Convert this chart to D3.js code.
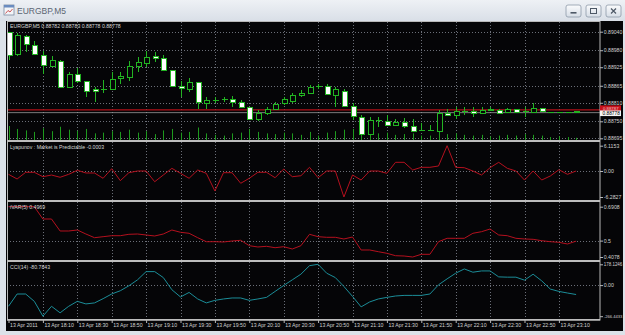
<!DOCTYPE html>
<html><head><meta charset="utf-8">
<script src="https://cdn.jsdelivr.net/npm/d3@7"></script>
<style>html,body{margin:0;padding:0;background:#dfe4ea;overflow:hidden}svg{display:block}</style>
</head><body>
<svg id="c" width="625" height="335"></svg>
<script>
// ---------------- DATA ----------------
const symbol = "EURGBP,M5";
const headerOHLC = "0.88782 0.88783 0.88778 0.88778";
const open  = [0.89040,0.88967,0.89026,0.88997,0.88965,0.88930,0.88946,0.88862,0.88902,0.88880,0.88854,0.88855,0.88854,0.88889,0.88894,0.88929,0.88938,0.88961,0.88956,0.88916,0.88864,0.88854,0.88876,0.88810,0.88819,0.88821,0.88823,0.88813,0.88796,0.88757,0.88776,0.88789,0.88808,0.88816,0.88834,0.88841,0.88864,0.88864,0.88834,0.88849,0.88800,0.88763,0.88709,0.88754,0.88751,0.88737,0.88749,0.88735,0.88721,0.88722,0.88720,0.88778,0.88770,0.88783,0.88784,0.88778,0.88787,0.88787,0.88778,0.88789,0.88782,0.88782,0.88792,0.88779,0.88779,0.88779,0.88782];
const high  = [0.89040,0.89037,0.89029,0.89010,0.88978,0.88961,0.88948,0.88911,0.88922,0.88882,0.88862,0.88884,0.88911,0.88909,0.88946,0.88959,0.88978,0.88975,0.88965,0.88916,0.88880,0.88889,0.88876,0.88830,0.88830,0.88830,0.88832,0.88819,0.88796,0.88787,0.88795,0.88813,0.88828,0.88843,0.88851,0.88868,0.88871,0.88871,0.88862,0.88855,0.88808,0.88770,0.88764,0.88765,0.88770,0.88757,0.88760,0.88757,0.88744,0.88738,0.88787,0.88789,0.88797,0.88795,0.88795,0.88797,0.88797,0.88791,0.88792,0.88791,0.88795,0.88808,0.88794,0.88781,0.88781,0.88781,0.88783];
const low   = [0.88948,0.88961,0.88975,0.88965,0.88902,0.88927,0.88860,0.88860,0.88873,0.88828,0.88813,0.88841,0.88851,0.88870,0.88880,0.88911,0.88925,0.88943,0.88914,0.88862,0.88828,0.88846,0.88789,0.88789,0.88808,0.88813,0.88795,0.88795,0.88754,0.88752,0.88770,0.88787,0.88803,0.88810,0.88828,0.88838,0.88854,0.88837,0.88795,0.88795,0.88754,0.88706,0.88706,0.88733,0.88735,0.88735,0.88727,0.88719,0.88719,0.88719,0.88719,0.88767,0.88757,0.88770,0.88765,0.88777,0.88784,0.88777,0.88777,0.88779,0.88765,0.88780,0.88780,0.88777,0.88777,0.88776,0.88778];
const close = [0.88967,0.89029,0.88999,0.88967,0.88932,0.88948,0.88862,0.88903,0.88880,0.88848,0.88848,0.88855,0.88886,0.88897,0.88929,0.88942,0.88958,0.88956,0.88916,0.88864,0.88857,0.88876,0.88810,0.88819,0.88819,0.88821,0.88813,0.88797,0.88758,0.88778,0.88789,0.88805,0.88821,0.88835,0.88842,0.88862,0.88864,0.88838,0.88854,0.88802,0.88767,0.88709,0.88754,0.88754,0.88737,0.88748,0.88735,0.88720,0.88721,0.88722,0.88778,0.88770,0.88784,0.88783,0.88777,0.88787,0.88791,0.88778,0.88789,0.88780,0.88782,0.88794,0.88781,0.88779,0.88779,0.88779,0.88778];
const volume = [38,30,26,22,32,24,36,28,25,30,18,20,24,22,28,20,24,16,26,30,20,22,34,18,14,12,18,20,30,22,18,16,20,18,14,22,12,20,24,28,30,36,32,18,20,14,16,18,12,12,28,16,18,14,12,14,10,12,14,12,16,14,12,8,10,8,6];
const lyapunov = [-0.80,-1.93,-0.31,-0.31,-1.38,-0.97,-1.52,-0.80,0.17,-0.48,-0.48,-1.76,0.56,-2.34,-0.41,0.00,0.00,-2.59,-0.97,0.65,-0.56,-1.76,0.24,-0.56,-4.83,-0.41,-0.41,-2.97,-1.76,-0.31,-0.31,-1.62,0.48,-1.38,-1.14,0.89,-1.62,0.00,0.00,-6.2827,-0.97,-2.18,0.00,0.00,-0.56,2.10,2.10,0.24,0.89,0.89,1.21,6.1153,0.89,0.80,0.00,-0.97,0.80,2.10,0.65,0.00,-2.18,0.00,-2.18,-1.21,0.31,-0.80,-0.0003];
const ivar = [0.6908,0.6908,0.6908,0.6908,0.6216,0.6216,0.5541,0.5541,0.5597,0.5372,0.5164,0.5220,0.5277,0.5277,0.5355,0.5372,0.5316,0.5260,0.5372,0.5597,0.5468,0.5412,0.5164,0.4939,0.4939,0.4922,0.4978,0.5018,0.4714,0.4641,0.4680,0.4601,0.4658,0.4528,0.4714,0.5355,0.5220,0.5186,0.5186,0.5091,0.5203,0.4472,0.4472,0.4376,0.4286,0.4151,0.4134,0.4078,0.4230,0.4230,0.4939,0.5130,0.5130,0.5130,0.5412,0.5502,0.5653,0.5316,0.5277,0.5130,0.5091,0.5074,0.4995,0.4939,0.4905,0.4810,0.4969];
const cci = [-181.6,-76.4,-76.4,-139.1,-266.4433,-181.6,-237.6,-181.6,-139.1,-161.2,-152.7,-116.2,-76.4,-48.4,-5.9,45.0,115.4,115.4,64.5,-39.9,-101.8,-62.8,-118.8,-152.7,-130.7,-118.8,-110.3,-110.3,-130.7,-118.8,-105.2,-54.3,-3.4,45.0,93.3,166.3,178.1246,101.8,64.5,-11.9,-96.7,-186.6,-144.2,-118.8,-105.2,-93.3,-88.2,-88.2,-88.2,-76.4,2.5,53.4,101.8,138.3,110.3,121.3,121.3,70.4,67.9,67.9,42.4,93.3,36.5,-33.9,-54.3,-67.9,-80.7843];
const timeLabels = ["13 Apr 2011","13 Apr 18:10","13 Apr 18:30","13 Apr 18:50","13 Apr 19:10","13 Apr 19:30","13 Apr 19:50","13 Apr 20:10","13 Apr 20:30","13 Apr 20:50","13 Apr 21:10","13 Apr 21:30","13 Apr 21:50","13 Apr 22:10","13 Apr 22:30","13 Apr 22:50","13 Apr 23:10"];
const timeLabelBars = [0,4,8,12,16,20,24,28,32,36,40,44,48,52,56,60,64];
const priceTicks = [0.89040,0.88980,0.88925,0.88865,0.88810,0.88750,0.88695];
const bidPrice = 0.88778, askPrice = 0.88787;
const lyapTicks = [6.1153,0,-6.2827], lyapTickText = ["6.1153","0.00","-6.2827"];
const varTicks = [0.6908,0.5,0.4078], varTickText = ["0.6908","0.5","0.4078"];
const cciTicks = [178.1246,0,-266.4433], cciTickText = ["178.1246","0.00","-266.4433"];
const lyapTitle = "Lyapunov : Market is Predictable  -0.0003";
const varTitle = "iVAR(5) 0.4969";
const cciTitle = "CCI(14) -80.7843";

// ---------------- DRAW ----------------
const svg = d3.select("#c");
const W = 625, H = 335;
const FONT = "'Liberation Sans', Arial, sans-serif";
const defs = svg.append("defs");
const tg = defs.append("linearGradient").attr("id","tb").attr("x1",0).attr("y1",0).attr("x2",0).attr("y2",1);
tg.append("stop").attr("offset","0").attr("stop-color","#eef1f5");
tg.append("stop").attr("offset","1").attr("stop-color","#d9dfe7");
const bg = defs.append("linearGradient").attr("id","btn").attr("x1",0).attr("y1",0).attr("x2",0).attr("y2",1);
bg.append("stop").attr("offset","0").attr("stop-color","#fbfcfd");
bg.append("stop").attr("offset","1").attr("stop-color","#d6dde6");
defs.append("clipPath").attr("id","blk").append("rect").attr("x",6).attr("y",21).attr("width",617).attr("height",310);
defs.append("clipPath").attr("id","plot").append("rect").attr("x",7).attr("y",22).attr("width",593).attr("height",298);

// window chrome
svg.append("rect").attr("width",W).attr("height",H).attr("fill","#dce2e9");
svg.append("rect").attr("width",W).attr("height",21).attr("fill","url(#tb)");
const ic = svg.append("g").attr("transform","translate(4,5)");
ic.append("rect").attr("width",10).attr("height",10).attr("fill","#f4f6f9").attr("stroke","#7a8aa0").attr("stroke-width",0.8);
ic.append("rect").attr("x",0).attr("y",0).attr("width",10).attr("height",2.5).attr("fill","#6a8cc0");
ic.append("path").attr("d","M1.5,8.5 L4,5.5 L6,7 L8.5,4").attr("fill","none").attr("stroke","#c03030").attr("stroke-width",0.8);
svg.append("text").attr("x",17).attr("y",14).attr("font-family",FONT).attr("font-size",8.5).attr("fill","#5b6572").text(symbol);
[[566,"min"],[586,"max"],[606,"close"]].forEach(([bx,k])=>{
  svg.append("rect").attr("x",bx).attr("y",5).attr("width",15).attr("height",12).attr("rx",2)
    .attr("fill","url(#btn)").attr("stroke","#8d99a8").attr("stroke-width",0.8);
  const cx = bx+7.5, cy = 11;
  if(k==="min") svg.append("rect").attr("x",cx-3).attr("y",cy+1).attr("width",6).attr("height",1.6).attr("fill","#4d5866");
  if(k==="max") svg.append("rect").attr("x",cx-3).attr("y",cy-2.5).attr("width",6).attr("height",5).attr("fill","none").attr("stroke","#4d5866").attr("stroke-width",1);
  if(k==="close") svg.append("path").attr("d",`M${cx-2.5},${cy-2.5}L${cx+2.5},${cy+2.5}M${cx+2.5},${cy-2.5}L${cx-2.5},${cy+2.5}`).attr("stroke","#4d5866").attr("stroke-width",1.2);
});

svg.append("rect").attr("x",6).attr("y",21).attr("width",617).attr("height",310).attr("fill","#050507");

const root = svg.append("g").attr("clip-path","url(#blk)");
const plot = root.append("g").attr("clip-path","url(#plot)");
const labels = svg.append("g");

// scales
const x = d3.scaleLinear().domain([0,66]).range([8.5,576.1]);
const yMain = d3.scaleLinear().domain([0.88695,0.89040]).range([138.3,31.7]);
const yVol = d3.scaleLinear().domain([0,d3.max(volume)]).range([140,126]);
const yLyap = d3.scaleLinear().domain([-6.2827,6.1153]).range([197,145.7]);
const yVar = d3.scaleLinear().domain([0.4078,0.6908]).range([257,206.7]);
const yCci = d3.scaleLinear().domain([-266.4433,178.1246]).range([316.2,264.3]);

const GRID = "#6b6f78";

timeLabelBars.filter(b=>b>0).forEach(b=>{
  plot.append("line").attr("x1",Math.round(x(b))+0.5).attr("x2",Math.round(x(b))+0.5).attr("y1",22).attr("y2",320)
    .attr("stroke",GRID).attr("stroke-width",1).attr("stroke-dasharray","1,2");
});
priceTicks.forEach(p=>{
  plot.append("line").attr("x1",7).attr("x2",600).attr("y1",Math.round(yMain(p))+0.5).attr("y2",Math.round(yMain(p))+0.5)
    .attr("stroke",GRID).attr("stroke-dasharray","1,2");
});
[[yLyap,0],[yVar,0.5],[yCci,0]].forEach(([s,v])=>{
  plot.append("line").attr("x1",7).attr("x2",600).attr("y1",Math.round(s(v))+0.5).attr("y2",Math.round(s(v))+0.5)
    .attr("stroke",GRID).attr("stroke-dasharray","1,2");
});

const idx = d3.range(open.length);
plot.append("g").selectAll("line").data(idx).join("line")
  .attr("x1",i=>Math.round(x(i))+0.5).attr("x2",i=>Math.round(x(i))+0.5)
  .attr("y1",yVol(0)).attr("y2",i=>yVol(volume[i]))
  .attr("stroke","#1e9a1e").attr("stroke-width",1);

plot.append("line").attr("x1",7).attr("x2",600).attr("y1",yMain(askPrice)).attr("y2",yMain(askPrice)).attr("stroke","#b01018").attr("stroke-width",1.4);
plot.append("line").attr("x1",7).attr("x2",600).attr("y1",yMain(bidPrice)).attr("y2",yMain(bidPrice)).attr("stroke","#9a9a9a").attr("stroke-width",0.8);

const GREEN = "#22b422";
const cg = plot.append("g").attr("shape-rendering","crispEdges");
idx.forEach(i=>{
  const cx = Math.round(x(i))+0.5;
  cg.append("line").attr("x1",cx).attr("x2",cx).attr("y1",yMain(high[i])).attr("y2",yMain(low[i])).attr("stroke",GREEN);
  const t = yMain(Math.max(open[i],close[i])), b = yMain(Math.min(open[i],close[i]));
  if (b - t < 1.2) {
    cg.append("line").attr("x1",cx-3).attr("x2",cx+3).attr("y1",Math.round(t)+0.5).attr("y2",Math.round(t)+0.5).attr("stroke",GREEN);
  } else {
    cg.append("rect").attr("x",cx-2.5).attr("y",Math.round(t)+0.5).attr("width",5).attr("height",Math.max(1,Math.round(b-t)))
      .attr("fill", close[i] < open[i] ? "#ffffff" : "#050507").attr("stroke",GREEN).attr("stroke-width",1);
  }
});

const lineGen = (s,arr)=>d3.line().x((d,i)=>x(i)).y(d=>s(d))(arr);
plot.append("path").attr("d",lineGen(yLyap,lyapunov)).attr("fill","none").attr("stroke","#b4101e").attr("stroke-width",1);
plot.append("path").attr("d",lineGen(yVar,ivar)).attr("fill","none").attr("stroke","#b4101e").attr("stroke-width",1);
plot.append("path").attr("d",lineGen(yCci,cci)).attr("fill","none").attr("stroke","#1b8d98").attr("stroke-width",1);

root.append("rect").attr("x",7.5).attr("y",21.5).attr("width",592.5).attr("height",298.5).attr("fill","none").attr("stroke","#b8b8b8").attr("stroke-width",1);
[141,201,261].forEach(yy=>{
  root.append("rect").attr("x",7).attr("y",yy-1).attr("width",593).attr("height",2).attr("fill","#bdbdbd");
});
root.append("rect").attr("x",7).attr("y",319).attr("width",593).attr("height",1.5).attr("fill","#bdbdbd");

const LBL = "#d2d2d2";
function rightAxis(scale, ticks, fmt) {
  const ax = d3.axisRight(scale).tickValues(ticks).tickFormat(fmt).tickSize(3).tickPadding(0.8);
  const g = labels.append("g").attr("transform","translate(600,0)").call(ax);
  g.select(".domain").remove();
  g.selectAll(".tick line").attr("stroke","#b8b8b8");
  g.selectAll(".tick text").attr("font-family",FONT).attr("font-size",5.2).attr("fill",LBL)
    .each(function(){
      const len = this.getComputedTextLength();
      const maxLen = 18.5;
      if (len > maxLen) d3.select(this).attr("font-size", (5.2*maxLen/len).toFixed(2));
    });
  return g;
}
rightAxis(yMain, priceTicks, d3.format(".5f"));
rightAxis(yLyap, lyapTicks, (d,i)=>lyapTickText[i]);
rightAxis(yVar, varTicks, (d,i)=>varTickText[i]);
rightAxis(yCci, cciTicks, (d,i)=>cciTickText[i]);

const ay = yMain(askPrice), by = yMain(bidPrice);
labels.append("rect").attr("x",600).attr("y",ay-4.5).attr("width",21).attr("height",7).attr("fill","#c8101a");
labels.append("text").attr("x",603).attr("y",ay+0.3).attr("font-family",FONT).attr("font-size",4.3).attr("fill","#f0c8c8").text(d3.format(".5f")(askPrice));
labels.append("rect").attr("x",600).attr("y",by-2.2).attr("width",21).attr("height",5.6).attr("fill","#f4f4f4");
labels.append("text").attr("x",602.5).attr("y",by+2.3).attr("font-family",FONT).attr("font-size",4.8).attr("fill","#000").text(d3.format(".5f")(bidPrice));

const tax = d3.axisBottom(x).tickValues(timeLabelBars).tickFormat((d,i)=>timeLabels[i]).tickSize(3).tickPadding(1);
const tg2 = labels.append("g").attr("transform","translate(0,320)").call(tax);
tg2.select(".domain").remove();
tg2.selectAll(".tick line").attr("stroke","#b8b8b8");
tg2.selectAll(".tick text").attr("font-family",FONT).attr("font-size",5.2).attr("fill",LBL)
  .attr("text-anchor","start").attr("x",1).attr("y",3).attr("dy","0.71em");

function header(yy, txt){
  labels.append("text").attr("x",10).attr("y",yy).attr("font-family",FONT).attr("font-size",5.2).attr("fill","#d8d8d8").text(txt);
}
header(27.5, symbol + "  " + headerOHLC);
header(149, lyapTitle);
header(209, varTitle);
header(269, cciTitle);
</script>
</body></html>
